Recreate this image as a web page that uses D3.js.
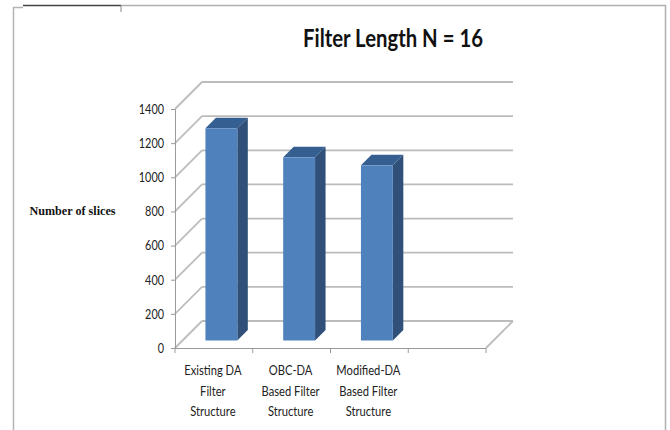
<!DOCTYPE html>
<html>
<head>
<meta charset="utf-8">
<style>
  html, body { margin: 0; padding: 0; background: #fff; }
  svg { display: block; }
</style>
<script src="https://cdn.jsdelivr.net/npm/d3@7"></script>
</head>
<body>
<div id="chart"></div>
<script>
// ------- Data
const categories = ['Existing DA', 'OBC-DA', 'Modified-DA', ''];
const categoryLines = [
  ['Existing DA', 'Filter', 'Structure'],
  ['OBC-DA', 'Based Filter', 'Structure'],
  ['Modified-DA', 'Based Filter', 'Structure'],
  []
];
const sliceValues = [1243, 1073, 1026];
const yTicks = [0, 200, 400, 600, 800, 1000, 1200, 1400];

const width = 670, height = 430;
const svg = d3.select('#chart').append('svg').attr('width', width).attr('height', height);

// ------- Scales (front plane of the 3D box)
const x = d3.scaleBand().domain(categories).range([175, 486]);
const y = d3.scaleLinear().domain([0, 1400]).range([348, 109]);

const depth = 27;          // wall depth
const barShift = 7.5;      // bars stand a little way into the floor
const barDepth = 10.5;
const barWidth = x.bandwidth() * 0.41;
const gridColor = '#bcbcbc';
const axisColor = '#9a9a9a';
const labelFont = 'Lato, "Open Sans", sans-serif';

// ------- Page frame
const frame = svg.append('g').attr('fill', 'none');
frame.append('path').attr('d', 'M13.5,430V7.5H23').attr('stroke', '#b5b5b5').attr('stroke-width', 1.5);
frame.append('path').attr('d', 'M121,5.5H665.5V430').attr('stroke', '#b0b0b0').attr('stroke-width', 1.5);
frame.append('path').attr('d', 'M23,5.5H121').attr('stroke', '#444').attr('stroke-width', 1.5);
frame.append('path').attr('d', 'M121,5.5V12').attr('stroke', '#888').attr('stroke-width', 1);

// ------- Walls: back gridlines and the diagonals joining them to the axis
const grid = svg.append('g').attr('fill', 'none').attr('stroke', gridColor).attr('stroke-width', 1.8);
grid.selectAll('.back').data(yTicks).join('line').attr('class', 'back')
  .attr('x1', 175 + depth).attr('x2', 486 + depth)
  .attr('y1', d => y(d) - depth).attr('y2', d => y(d) - depth);
grid.selectAll('.side').data(yTicks).join('line').attr('class', 'side')
  .attr('x1', 175).attr('x2', 175 + depth)
  .attr('y1', d => y(d)).attr('y2', d => y(d) - depth);
grid.append('line')
  .attr('x1', 486).attr('x2', 486 + depth)
  .attr('y1', y(0)).attr('y2', y(0) - depth);

// ------- Axes
svg.append('g')
  .attr('transform', 'translate(175,0)')
  .call(d3.axisLeft(y).tickValues(yTicks).tickSize(4).tickPadding(7).tickFormat(d3.format('d')))
  .call(g => g.selectAll('.domain, .tick line').attr('stroke', axisColor))
  .call(g => g.selectAll('.tick text')
    .attr('fill', '#222')
    .attr('textLength', d => String(d).length * 6.3)
    .attr('lengthAdjust', 'spacingAndGlyphs')
    .style('font-family', labelFont)
    .style('font-size', '13.5px'));

const xAxisG = svg.append('g').attr('stroke', axisColor).attr('fill', 'none');
xAxisG.append('line').attr('x1', 175).attr('x2', 486).attr('y1', y(0) + 0.5).attr('y2', y(0) + 0.5);
xAxisG.selectAll('.xtick').data(categories).join('line').attr('class', 'xtick')
  .attr('x1', d => x(d)).attr('x2', d => x(d))
  .attr('y1', y(0)).attr('y2', y(0) + 5);
xAxisG.append('line').attr('x1', 486).attr('x2', 486).attr('y1', y(0)).attr('y2', y(0) + 5);

// ------- Bars
const barData = sliceValues.map((v, i) => ({ cat: categories[i], v }));
const bars = svg.append('g').selectAll('g').data(barData).join('g')
  .attr('transform', d => `translate(${x(d.cat) + x.bandwidth() / 2 + barShift - barWidth / 2},${-barShift})`);

bars.append('path') // side
  .attr('fill', '#30507a')
  .attr('d', d => `M${barWidth},${y(d.v)}l${barDepth},${-barDepth}V${y(0) - barDepth}l${-barDepth},${barDepth}Z`);
bars.append('path') // top
  .attr('fill', '#365f91')
  .attr('d', d => `M0,${y(d.v)}l${barDepth},${-barDepth}h${barWidth}l${-barDepth},${barDepth}Z`);
bars.append('rect') // front
  .attr('fill', '#4f81bd')
  .attr('y', d => y(d.v))
  .attr('width', barWidth)
  .attr('height', d => y(0) - y(d.v));

// ------- Category labels (squeezed a bit, the original face is narrower than Lato)
const labels = svg.append('g')
  .attr('text-anchor', 'middle')
  .attr('fill', '#222')
  .style('font-family', labelFont)
  .style('font-size', '13px');
labels.selectAll('g').data(categories).join('g').each(function (d, i) {
  d3.select(this).selectAll('text').data(categoryLines[i]).join('text')
    .attr('x', x(d) + x.bandwidth() / 2 - 1)
    .attr('y', (t, k) => 375 + k * 20.5)
    .text(t => t)
    .each(function () {
      d3.select(this)
        .attr('textLength', this.getComputedTextLength() * 0.86)
        .attr('lengthAdjust', 'spacingAndGlyphs');
    });
});

// ------- Title and y label
svg.append('text')
  .attr('x', 393).attr('y', 47)
  .attr('text-anchor', 'middle')
  .attr('fill', '#111')
  .attr('textLength', 180)
  .attr('lengthAdjust', 'spacingAndGlyphs')
  .style('font-family', labelFont)
  .style('font-weight', 700)
  .style('font-size', '25px')
  .text('Filter Length N = 16');

svg.append('text')
  .attr('x', 29.5).attr('y', 215)
  .attr('fill', '#111')
  .attr('textLength', 86)
  .attr('lengthAdjust', 'spacingAndGlyphs')
  .style('font-family', '"Liberation Serif", serif')
  .style('font-weight', 700)
  .style('font-size', '13px')
  .text('Number of slices');
</script>
</body>
</html>
